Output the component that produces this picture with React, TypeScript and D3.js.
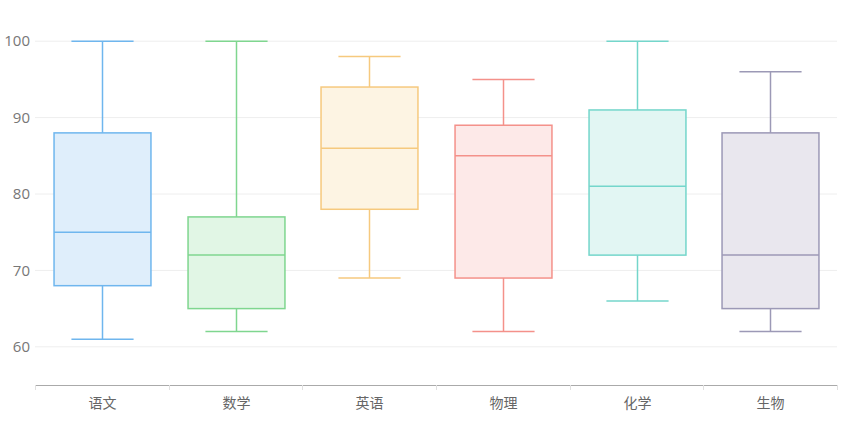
import React from "react";
import * as d3 from "d3";

const categories = ["语文", "数学", "英语", "物理", "化学", "生物"];
const mins = [61, 62, 69, 62, 66, 62];
const q1s = [68, 65, 78, 69, 72, 65];
const medians = [75, 72, 86, 85, 81, 72];
const q3s = [88, 77, 94, 89, 91, 88];
const maxs = [100, 100, 98, 95, 100, 96];
const yTicks = [60, 70, 80, 90, 100];
const strokes = ["#6fb6ee", "#7fd68f", "#f6c97e", "#f4918a", "#74d6cb", "#9c99b6"];
const fills = ["#dfeefb", "#e1f6e5", "#fdf4e3", "#fde9e8", "#e2f6f3", "#e9e7ee"];

export default function App() {
  const W = 841, H = 426;
  const left = 35, right = 837, top = 3, bottom = 385;
  const y = d3.scaleLinear().domain([55, 105]).range([bottom, top]);
  const x = d3.scaleBand().domain(categories).range([left, right]).padding(0);
  const bw = x.bandwidth();
  const boxW = bw * 0.725;
  const capW = bw * 0.465;
  return (
    <svg width={W} height={H} style={{ position: "absolute", left: 0, top: 0, background: "#fff" }}>
      {yTicks.map((t) => (
        <g key={t}>
          <line x1={left} x2={right} y1={y(t)} y2={y(t)} stroke="#eeeeee" strokeWidth={1} />
          <text x={30} y={y(t)} dy="0.35em" textAnchor="end" fontSize={15} fill="#777" fontFamily="Open Sans, sans-serif">{t}</text>
        </g>
      ))}
      <line x1={left} x2={right} y1={bottom + 0.5} y2={bottom + 0.5} stroke="#aaa" />
      {d3.range(categories.length + 1).map((i) => {
        const xx = Math.round(left + i * bw) + 0.5;
        return <line key={i} x1={xx} x2={xx} y1={bottom} y2={bottom + 5} stroke="#e0e0e0" />;
      })}
      {categories.map((c, i) => {
        const cx = Math.round((x(c) as number) + bw / 2) + 0.5;
        return (
          <g key={c}>
            <text x={cx} y={408} textAnchor="middle" fontSize={14} fill="#666" fontFamily="Noto Sans CJK SC, sans-serif">{c}</text>
            <line x1={cx} x2={cx} y1={y(maxs[i])} y2={y(q3s[i])} stroke={strokes[i]} strokeWidth={1.5} />
            <line x1={cx} x2={cx} y1={y(q1s[i])} y2={y(mins[i])} stroke={strokes[i]} strokeWidth={1.5} />
            <line x1={cx - capW / 2} x2={cx + capW / 2} y1={y(maxs[i])} y2={y(maxs[i])} stroke={strokes[i]} strokeWidth={1.5} />
            <line x1={cx - capW / 2} x2={cx + capW / 2} y1={y(mins[i])} y2={y(mins[i])} stroke={strokes[i]} strokeWidth={1.5} />
            <rect x={cx - boxW / 2} y={y(q3s[i])} width={boxW} height={y(q1s[i]) - y(q3s[i])} fill={fills[i]} stroke={strokes[i]} strokeWidth={1.5} />
            <line x1={cx - boxW / 2} x2={cx + boxW / 2} y1={y(medians[i])} y2={y(medians[i])} stroke={strokes[i]} strokeWidth={1.5} />
          </g>
        );
      })}
    </svg>
  );
}
